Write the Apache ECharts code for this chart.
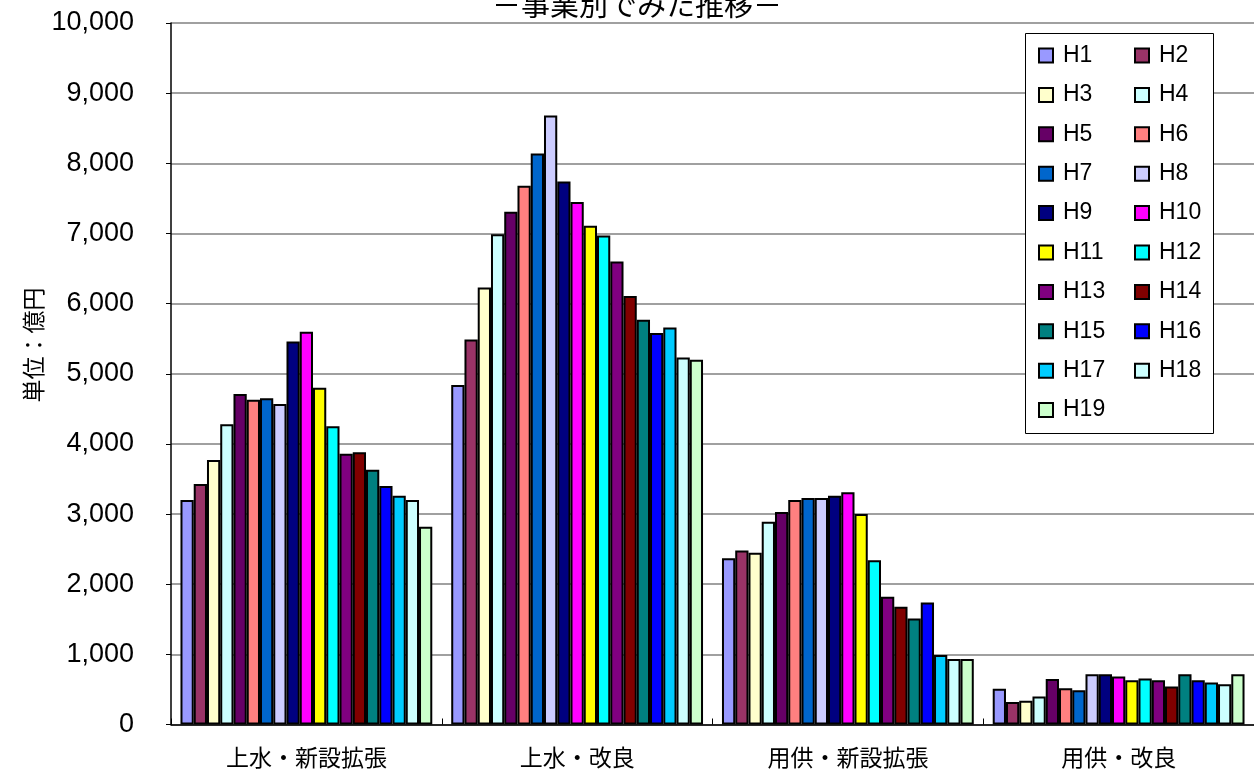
<!DOCTYPE html>
<html>
<head>
<meta charset="utf-8">
<script src="https://cdn.jsdelivr.net/npm/echarts@6/dist/echarts.min.js"></script>
<style>
  html, body { margin: 0; padding: 0; background: #fff; }
  #chart { width: 1254px; height: 773px; }
</style>
</head>
<body>
<div id="chart"></div>
<script>
// 事業別の投資額（単位：億円）
const categories = ['上水・新設拡張', '上水・改良', '用供・新設拡張', '用供・改良'];
const years = ['H1','H2','H3','H4','H5','H6','H7','H8','H9','H10',
               'H11','H12','H13','H14','H15','H16','H17','H18','H19'];
const colors = ['#9999FF','#993366','#FFFFCC','#CCFFFF','#660066','#FF8080','#0066CC',
                '#CCCCFF','#000080','#FF00FF','#FFFF00','#00FFFF','#800080','#800000',
                '#008080','#0000FF','#00CCFF','#CCFFFF','#CCFFCC'];

// 各区分の年度別値（上水・新設拡張, 上水・改良, 用供・新設拡張, 用供・改良）
const H1  = [3200, 4840, 2370, 510];
const H2  = [3430, 5490, 2480, 320];
const H3  = [3770, 6230, 2450, 340];
const H4  = [4280, 6990, 2890, 400];
const H5  = [4710, 7310, 3030, 650];
const H6  = [4630, 7680, 3200, 515];
const H7  = [4650, 8140, 3230, 490];
const H8  = [4570, 8680, 3230, 715];
const H9  = [5460, 7740, 3260, 715];
const H10 = [5600, 7450, 3310, 685];
const H11 = [4800, 7110, 3000, 630];
const H12 = [4250, 6970, 2340, 655];
const H13 = [3860, 6600, 1820, 630];
const H14 = [3880, 6110, 1680, 540];
const H15 = [3630, 5770, 1510, 715];
const H16 = [3400, 5580, 1740, 630];
const H17 = [3260, 5660, 990, 600];
const H18 = [3200, 5230, 935, 575];
const H19 = [2820, 5200, 935, 715];
const seriesValues = [H1,H2,H3,H4,H5,H6,H7,H8,H9,H10,H11,H12,H13,H14,H15,H16,H17,H18,H19];

// 縦軸の目盛
const yMin = 0, yMax = 10000, yStep = 1000;

const numFont = '"Liberation Sans", Arial, sans-serif';
const jpFont = '"Noto Sans CJK JP", sans-serif';

const series = years.map((name, i) => ({
  name: name,
  type: 'bar',
  data: seriesValues[i],
  barGap: '0%',
  barCategoryGap: '7%',
  itemStyle: { color: colors[i], borderColor: '#000', borderWidth: 2 },
  emphasis: { disabled: true }
}));

const legendCommon = {
  orient: 'vertical',
  top: 44,
  padding: 0,
  itemWidth: 14,
  itemHeight: 14,
  itemGap: 16.4,
  icon: 'rect',
  selectedMode: false,
  z: 5,
  itemStyle: { borderColor: '#000', borderWidth: 2 },
  textStyle: { fontFamily: numFont, fontSize: 23, color: '#000', lineHeight: 22, padding: [0, 0, 0, 5] }
};

const chart = echarts.init(document.getElementById('chart'), null, { renderer: 'canvas' });
chart.setOption({
  animation: false,
  backgroundColor: '#fff',
  color: colors,
  title: {
    text: '－事業別でみた推移－',
    left: 632,
    textAlign: 'center',
    top: -15,
    textStyle: { fontFamily: jpFont, fontSize: 29, fontWeight: 'normal', color: '#000' }
  },
  grid: { left: 171, right: -10, top: 23, bottom: 48.5, containLabel: false },
  xAxis: {
    type: 'category',
    data: categories,
    axisLine: { lineStyle: { color: '#000', width: 1.5 } },
    axisTick: { show: true, inside: true, length: 6, lineStyle: { color: '#000' } },
    axisLabel: { fontFamily: jpFont, fontSize: 23, color: '#000', margin: 21 }
  },
  yAxis: {
    type: 'value',
    min: yMin,
    max: yMax,
    interval: yStep,
    axisLine: { show: true, lineStyle: { color: '#000', width: 1.5 } },
    axisTick: { show: true, length: 5, lineStyle: { color: '#000' } },
    axisLabel: {
      fontFamily: numFont, fontSize: 27, color: '#000', margin: 37,
      formatter: v => v.toLocaleString('en-US')
    },
    splitLine: { show: true, lineStyle: { color: '#808080', width: 1.5 } }
  },
  legend: [
    Object.assign({}, legendCommon, { left: 1038, data: years.filter((_, i) => i % 2 === 0) }),
    Object.assign({}, legendCommon, { left: 1134, data: years.filter((_, i) => i % 2 === 1) })
  ],
  graphic: [{
    type: 'rect',
    z: 4,
    shape: { x: 1025.5, y: 33.5, width: 188, height: 400 },
    style: { fill: '#fff', stroke: '#000', lineWidth: 1 }
  }, {
    type: 'text',
    z: 4,
    x: 33,
    y: 345,
    rotation: Math.PI / 2,
    style: {
      text: '単位：億円',
      fontFamily: jpFont,
      fontSize: 23,
      fill: '#000',
      textAlign: 'center',
      textVerticalAlign: 'middle'
    }
  }],
  series: series
});
</script>
</body>
</html>
